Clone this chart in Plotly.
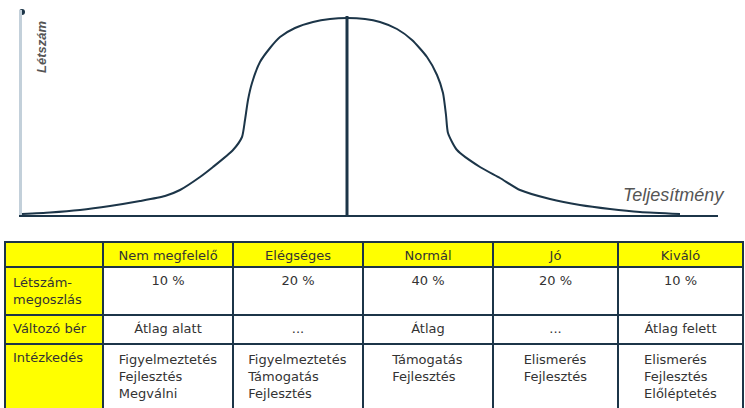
import plotly.graph_objects as go

# ---- curve data (performance vs headcount, arbitrary units) ----
perf = [-32.5, -29.7, -26.7, -23.7, -20.7, -18.2, -16.7, -14.7, -13.4, -11.4, -10.5, -10.2, -9.9,
        -9.5, -8.7, -7.7, -6.7, -5.2, -3.4, -1.7, 0.0, 1.8, 3.3, 5.0, 6.5, 8.0, 9.0, 9.6, 9.9,
        10.1, 11.0, 13.3, 15.3, 17.3, 20.3, 23.3, 26.3, 29.3, 33.3]
headcount = [0.5, 1.25, 2.5, 4.5, 7, 9.5, 12.5, 19, 24, 32.5, 39, 47.5, 57.5,
             66, 76.5, 83.5, 89, 93.5, 96.5, 98, 98.5, 98, 96.5, 93, 87.5, 79, 70, 61, 50,
             41, 32.5, 24, 18.5, 12.5, 8, 5, 3, 1.5, 0.5]
mean_perf = 0.0
mean_line_y = [-1, 99.5]

# ---- table data ----
row_labels = ["Létszám-<br>megoszlás", "Változó bér", "Intézkedés"]
categories = ["Nem megfelelő", "Elégséges", "Normál", "Jó", "Kiváló"]
shares = ["10 %", "20 %", "40 %", "20 %", "10 %"]
pay = ["Átlag alatt", "...", "Átlag", "...", "Átlag felett"]
actions = [
    "Figyelmeztetés<br>Fejlesztés<br>Megválni",
    "Figyelmeztetés<br>Támogatás<br>Fejlesztés",
    "Támogatás<br>Fejlesztés",
    "Elismerés<br>Fejlesztés",
    "Elismerés<br>Fejlesztés<br>Előléptetés",
]

NAVY = "#1c3548"
YELLOW = "#ffff00"
TXT = "#333333"
FONT = "Liberation Sans, Arial"
TFONT = "DejaVu Sans, Liberation Sans, Arial"
W, H = 745, 408

fig = go.Figure()

fig.add_trace(go.Scatter(x=perf, y=headcount, mode="lines",
                         line=dict(color=NAVY, width=2, shape="spline", smoothing=0.6),
                         hoverinfo="skip", showlegend=False))
fig.add_trace(go.Scatter(x=[mean_perf, mean_perf], y=mean_line_y, mode="lines",
                         line=dict(color=NAVY, width=3), hoverinfo="skip", showlegend=False,
                         cliponaxis=False))
# dot on top of y axis
fig.add_trace(go.Scatter(x=[-32.5], y=[101.5], mode="markers",
                         marker=dict(color=NAVY, size=6), hoverinfo="skip", showlegend=False,
                         cliponaxis=False))

cols_vals = [row_labels]
for i in range(len(categories)):
    cols_vals.append([shares[i], pay[i], actions[i]])

fill_cols = [[YELLOW] * 3] + [["white"] * 3 for _ in categories]
align_cols = ["left"] + ["center"] * len(categories)

fig.add_trace(go.Table(
    domain=dict(x=[5 / W, 743 / W], y=[0, 1 - 242 / H]),
    columnwidth=[98, 130, 130, 130, 125, 125],
    header=dict(values=[""] + categories, fill_color=YELLOW,
                line=dict(color=NAVY, width=2), align="center",
                font=dict(family=TFONT, size=13, color=TXT), height=25),
    cells=dict(values=cols_vals, fill_color=fill_cols,
               line=dict(color=NAVY, width=2), align=align_cols,
               font=dict(family=TFONT, size=13, color=TXT), height=29),
))

fig.update_layout(
    width=W, height=H,
    margin=dict(l=0, r=0, t=0, b=0),
    paper_bgcolor="white", plot_bgcolor="white",
    xaxis=dict(domain=[22 / W, 718 / W], range=[-32.5, 37.1], showgrid=False, zeroline=False,
               showticklabels=False, ticks="", showline=True, linecolor=NAVY, linewidth=2),
    yaxis=dict(domain=[1 - 215 / H, 1 - 10 / H], range=[0, 102.5], showgrid=False, zeroline=False,
               showticklabels=False, ticks="", showline=True, linecolor="#c3d0da", linewidth=3),
    annotations=[
        dict(x=-30.6, y=84, xref="x", yref="y", text="<b><i>Létszám</i></b>", showarrow=False,
             textangle=-90, font=dict(family=FONT, size=13, color="#555")),
        dict(x=32.6, y=10, xref="x", yref="y", text="<i>Teljesítmény</i>", showarrow=False,
             font=dict(family=FONT, size=18, color="#555")),
    ],
)

fig.write_html("out.html", config={"displayModeBar": False},
               post_script="document.body.style.margin='0';")
